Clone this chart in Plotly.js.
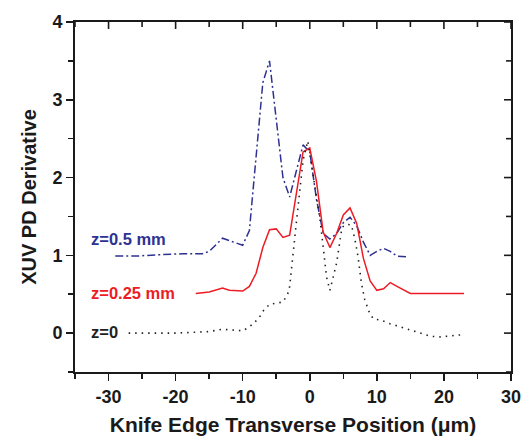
<!DOCTYPE html>
<html>
<head>
<meta charset="utf-8">
<script src="https://cdn.plot.ly/plotly-3.0.1.min.js"></script>
<style>
  html, body { margin: 0; padding: 0; background: #fff; }
  #chart { width: 523px; height: 438px; }
</style>
</head>
<body>
<div id="chart"></div>
<script>
// Knife-edge scan derivative profiles at three z positions (offset vertically)
const xZ05 = [-29, -26, -22, -19, -16, -15, -13, -12, -10, -9, -8, -7, -6, -5, -4, -3, -2, -1, 0, 1, 2, 3, 4, 5, 6, 7, 8, 9, 10, 11, 12, 13, 14.5];
const yZ05 = [0.99, 0.99, 1.01, 1.02, 1.02, 1.05, 1.22, 1.19, 1.13, 1.32, 2.25, 3.22, 3.5, 2.75, 2.0, 1.75, 2.1, 2.42, 2.33, 1.72, 1.28, 1.21, 1.28, 1.42, 1.49, 1.38, 1.17, 1.0, 1.05, 1.09, 1.05, 0.99, 0.98];

const xZ025 = [-17, -15, -13, -12, -10, -9, -8, -7, -6, -5, -4, -3, -1, 0, 1, 2, 3, 4, 5, 6, 7, 8, 9, 10, 11, 12, 13, 15, 23];
const yZ025 = [0.51, 0.53, 0.58, 0.55, 0.54, 0.6, 0.77, 1.1, 1.33, 1.34, 1.23, 1.26, 2.33, 2.38, 1.95, 1.3, 1.1, 1.28, 1.52, 1.61, 1.41, 0.96, 0.67, 0.55, 0.57, 0.65, 0.6, 0.51, 0.51];

const xZ0 = [-27, -20, -15, -13, -10, -9, -7.6, -7, -6, -4, -3.3, -3, -2, -1, -0.3, 0.5, 1.5, 2, 2.5, 3, 4, 4.8, 5.5, 6.2, 6.7, 7.2, 7.7, 8.2, 8.9, 9.5, 10.5, 12, 13.6, 15.8, 17, 18, 19.3, 21.3, 22.8];
const yZ0 = [0, 0, 0.02, 0.05, 0.03, 0.08, 0.19, 0.28, 0.37, 0.4, 0.5, 0.6, 1.42, 2.22, 2.47, 2.05, 1.48, 1.11, 0.72, 0.55, 0.9, 1.36, 1.4, 1.39, 1.22, 0.98, 0.64, 0.43, 0.26, 0.18, 0.17, 0.12, 0.08, 0.02, -0.01, -0.04, -0.05, -0.035, -0.02];

const seriesNames = ['z=0.5 mm', 'z=0.25 mm', 'z=0'];
const seriesColors = ['#2e3192', '#ed1c24', '#231f20'];

const xTickVals = [-30, -20, -10, 0, 10, 20, 30];
const xTickText = ['-30', '-20', '-10', '0', '10', '20', '30'];
const yTickVals = [0, 1, 2, 3, 4];
const yTickText = ['0', '1', '2', '3', '4'];

const X_RANGE = [-35, 30];
const Y_RANGE = [-0.5, 4];
const X_MINOR = 5;
const Y_MINOR = 0.5;

const W = 523, H = 438;
const MARGIN = { l: 75, r: 12, t: 22, b: 66 };
const PLOT_W = W - MARGIN.l - MARGIN.r;
const PLOT_H = H - MARGIN.t - MARGIN.b;

const FONT = 'Arial, "Liberation Sans", Helvetica, sans-serif';
const INK = '#1a1a1a';
const MAJOR_LEN = 7, MINOR_LEN = 5, TICK_W = 1.6, FRAME_W = 2;

const traces = [
  { x: xZ05, y: yZ05, mode: 'lines', name: seriesNames[0],
    line: { color: seriesColors[0], width: 1.5, dash: '8px,3px,2px,3px' } },
  { x: xZ025, y: yZ025, mode: 'lines', name: seriesNames[1],
    line: { color: seriesColors[1], width: 1.5 } },
  { x: xZ0, y: yZ0, mode: 'lines', name: seriesNames[2],
    line: { color: seriesColors[2], width: 1.6, dash: '1.5px,5px' } }
];

// inward-pointing ticks along the top and right edges of the box
const frameShapes = [];
function stepValues(range, step) {
  const out = [];
  for (let v = range[0]; v <= range[1] + 1e-9; v += step) out.push(+v.toFixed(6));
  return out;
}
stepValues(X_RANGE, X_MINOR).forEach(v => {
  const len = xTickVals.includes(v) ? MAJOR_LEN : MINOR_LEN;
  const f = (v - X_RANGE[0]) / (X_RANGE[1] - X_RANGE[0]);
  frameShapes.push({ type: 'line', xref: 'paper', yref: 'paper', x0: f, x1: f, y0: 1, y1: 1 - len / PLOT_H,
    line: { color: INK, width: TICK_W } });
});
stepValues(Y_RANGE, Y_MINOR).forEach(v => {
  const len = yTickVals.includes(v) ? MAJOR_LEN : MINOR_LEN;
  const f = (v - Y_RANGE[0]) / (Y_RANGE[1] - Y_RANGE[0]);
  frameShapes.push({ type: 'line', xref: 'paper', yref: 'paper', x0: 1, x1: 1 - len / PLOT_W, y0: f, y1: f,
    line: { color: INK, width: TICK_W } });
});

const axisCommon = {
  showline: true, linecolor: INK, linewidth: FRAME_W, mirror: true,
  showgrid: false, zeroline: false,
  tickcolor: INK, tickwidth: TICK_W, ticklen: MAJOR_LEN, ticks: 'outside',
  tickfont: { family: FONT, size: 18, color: INK, weight: 'bold' }
};

function minorTicks(tick0, dtick) {
  return { tickmode: 'linear', tick0: tick0, dtick: dtick, ticks: 'outside', ticklen: MINOR_LEN, tickwidth: TICK_W, tickcolor: INK };
}

const layout = {
  width: W, height: H,
  margin: MARGIN,
  paper_bgcolor: '#ffffff', plot_bgcolor: '#ffffff',
  showlegend: false,
  xaxis: Object.assign({}, axisCommon, {
    range: X_RANGE, tickmode: 'array', tickvals: xTickVals, ticktext: xTickText,
    minor: minorTicks(X_RANGE[0], X_MINOR),
    title: { text: 'Knife Edge Transverse Position (μm)', standoff: 12,
             font: { family: FONT, size: 21, color: INK, weight: 'bold' } }
  }),
  yaxis: Object.assign({}, axisCommon, {
    range: Y_RANGE, tickmode: 'array', tickvals: yTickVals, ticktext: yTickText,
    minor: minorTicks(Y_RANGE[0], Y_MINOR),
    title: { text: 'XUV PD Derivative', standoff: 10,
             font: { family: FONT, size: 20, color: INK, weight: 'bold' } }
  }),
  shapes: frameShapes,
  annotations: [
    { text: seriesNames[0], x: -32.9, y: 1.21, xref: 'x', yref: 'y', xanchor: 'left', yanchor: 'middle',
      showarrow: false, font: { family: FONT, size: 16.5, color: seriesColors[0], weight: 'bold' } },
    { text: seriesNames[1], x: -32.9, y: 0.52, xref: 'x', yref: 'y', xanchor: 'left', yanchor: 'middle',
      showarrow: false, font: { family: FONT, size: 16.5, color: seriesColors[1], weight: 'bold' } },
    { text: seriesNames[2], x: -32.9, y: 0.02, xref: 'x', yref: 'y', xanchor: 'left', yanchor: 'middle',
      showarrow: false, font: { family: FONT, size: 16.5, color: seriesColors[2], weight: 'bold' } }
  ]
};

Plotly.newPlot('chart', traces, layout, { displayModeBar: false, staticPlot: true });
</script>
</body>
</html>
